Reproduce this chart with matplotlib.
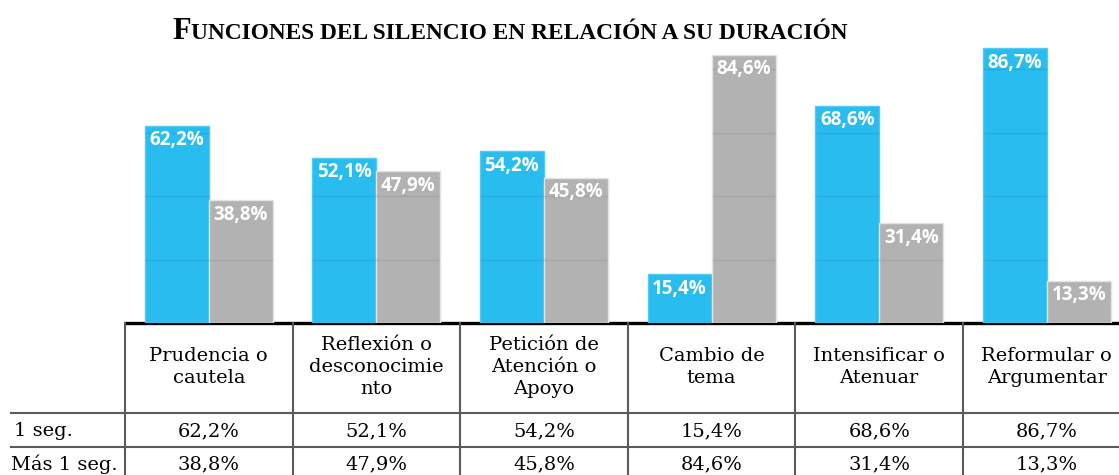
import matplotlib.pyplot as plt
import numpy as np

# data
categorias = ["Prudencia o\ncautela", "Reflexión o\ndesconocimie\nnto", "Petición de\nAtención o\nApoyo",
              "Cambio de\ntema", "Intensificar o\nAtenuar", "Reformular o\nArgumentar"]
un_seg = [62.2, 52.1, 54.2, 15.4, 68.6, 86.7]
mas_un_seg = [38.8, 47.9, 45.8, 84.6, 31.4, 13.3]
filas = ["1 seg.", "Más 1 seg."]

W, H = 1119, 475
fig = plt.figure(figsize=(W / 100, H / 100), dpi=100)

def pct(v):
    return f"{v:.1f}%".replace(".", ",")

# table geometry in pixels
x0, colw = 125, 167.6
y_top, y_h, y_r1 = 323, 413, 447

# bar axes, one category per table column
ax = fig.add_axes([x0 / W, (H - y_top) / H, 6 * colw / W, (y_top - 6) / H])
x = np.arange(len(categorias))
bw = 0.382
b1 = ax.bar(x - bw / 2, un_seg, bw, color="#29BCEF", edgecolor="#55CBF2", linewidth=1, zorder=2)
b2 = ax.bar(x + bw / 2, mas_un_seg, bw, color="#B2B2B2", edgecolor="#E4E4E4", linewidth=1, zorder=2)
for bars, vals in [(b1, un_seg), (b2, mas_un_seg)]:
    for r, v in zip(bars, vals):
        ax.annotate(pct(v), (r.get_x() + r.get_width() / 2, v), xytext=(0, -10.5), textcoords="offset points",
                    ha="center", va="center", color="white", fontsize=13.5, fontweight="bold",
                    family="Open Sans", zorder=4)
        # gridlines only show up on the bars
        for g in [20, 40, 60, 80]:
            if g < v:
                ax.plot([r.get_x(), r.get_x() + r.get_width()], [g, g], color="black", alpha=0.07,
                        lw=1, zorder=3)
ax.set_xlim(-0.5, 5.5)
ax.set_ylim(0, 100)
ax.axis("off")

# table drawn in pixel coordinates
tb = fig.add_axes([0, 0, 1, 1], zorder=-1)
tb.set_xlim(0, W)
tb.set_ylim(H, 0)
tb.axis("off")
tb.plot([x0, W], [y_top, y_top], color="black", lw=2.4, solid_capstyle="butt")
for yy in [y_h, y_r1]:
    tb.plot([11, W], [yy, yy], color="#5a5a5a", lw=1.5)
for i in range(7):
    xx = x0 + i * colw
    tb.plot([xx, xx], [y_top, H], color="#5a5a5a", lw=1.5)

tf = "DejaVu Serif"
fs = 14
for i, c in enumerate(categorias):
    cx = x0 + (i + 0.5) * colw
    tb.text(cx, (y_top + y_h) / 2 - 1, c, ha="center", va="center", fontsize=fs, family=tf,
            linespacing=1.3)
    tb.text(cx, (y_h + y_r1) / 2 + 1, pct(un_seg[i]), ha="center", va="center", fontsize=fs, family=tf)
    tb.text(cx, y_r1 + 17, pct(mas_un_seg[i]), ha="center", va="center", fontsize=fs, family=tf)
tb.text(14, (y_h + y_r1) / 2 + 1, filas[0], ha="left", va="center", fontsize=fs, family=tf)
tb.text(11, y_r1 + 17, filas[1], ha="left", va="center", fontsize=fs, family=tf)

# title in small caps
serif = "Liberation Serif"
t1 = fig.text(172 / W, 1 - 39 / H, "F", fontsize=22, family=serif, fontweight="bold", va="baseline")
fig.canvas.draw()
bb = t1.get_window_extent()
fig.text(bb.x1 / W, 1 - 39 / H, "UNCIONES DEL SILENCIO EN RELACIÓN A SU DURACIÓN", fontsize=16.8,
         family=serif, fontweight="bold", va="baseline")

fig.savefig("out.png", dpi=100)
